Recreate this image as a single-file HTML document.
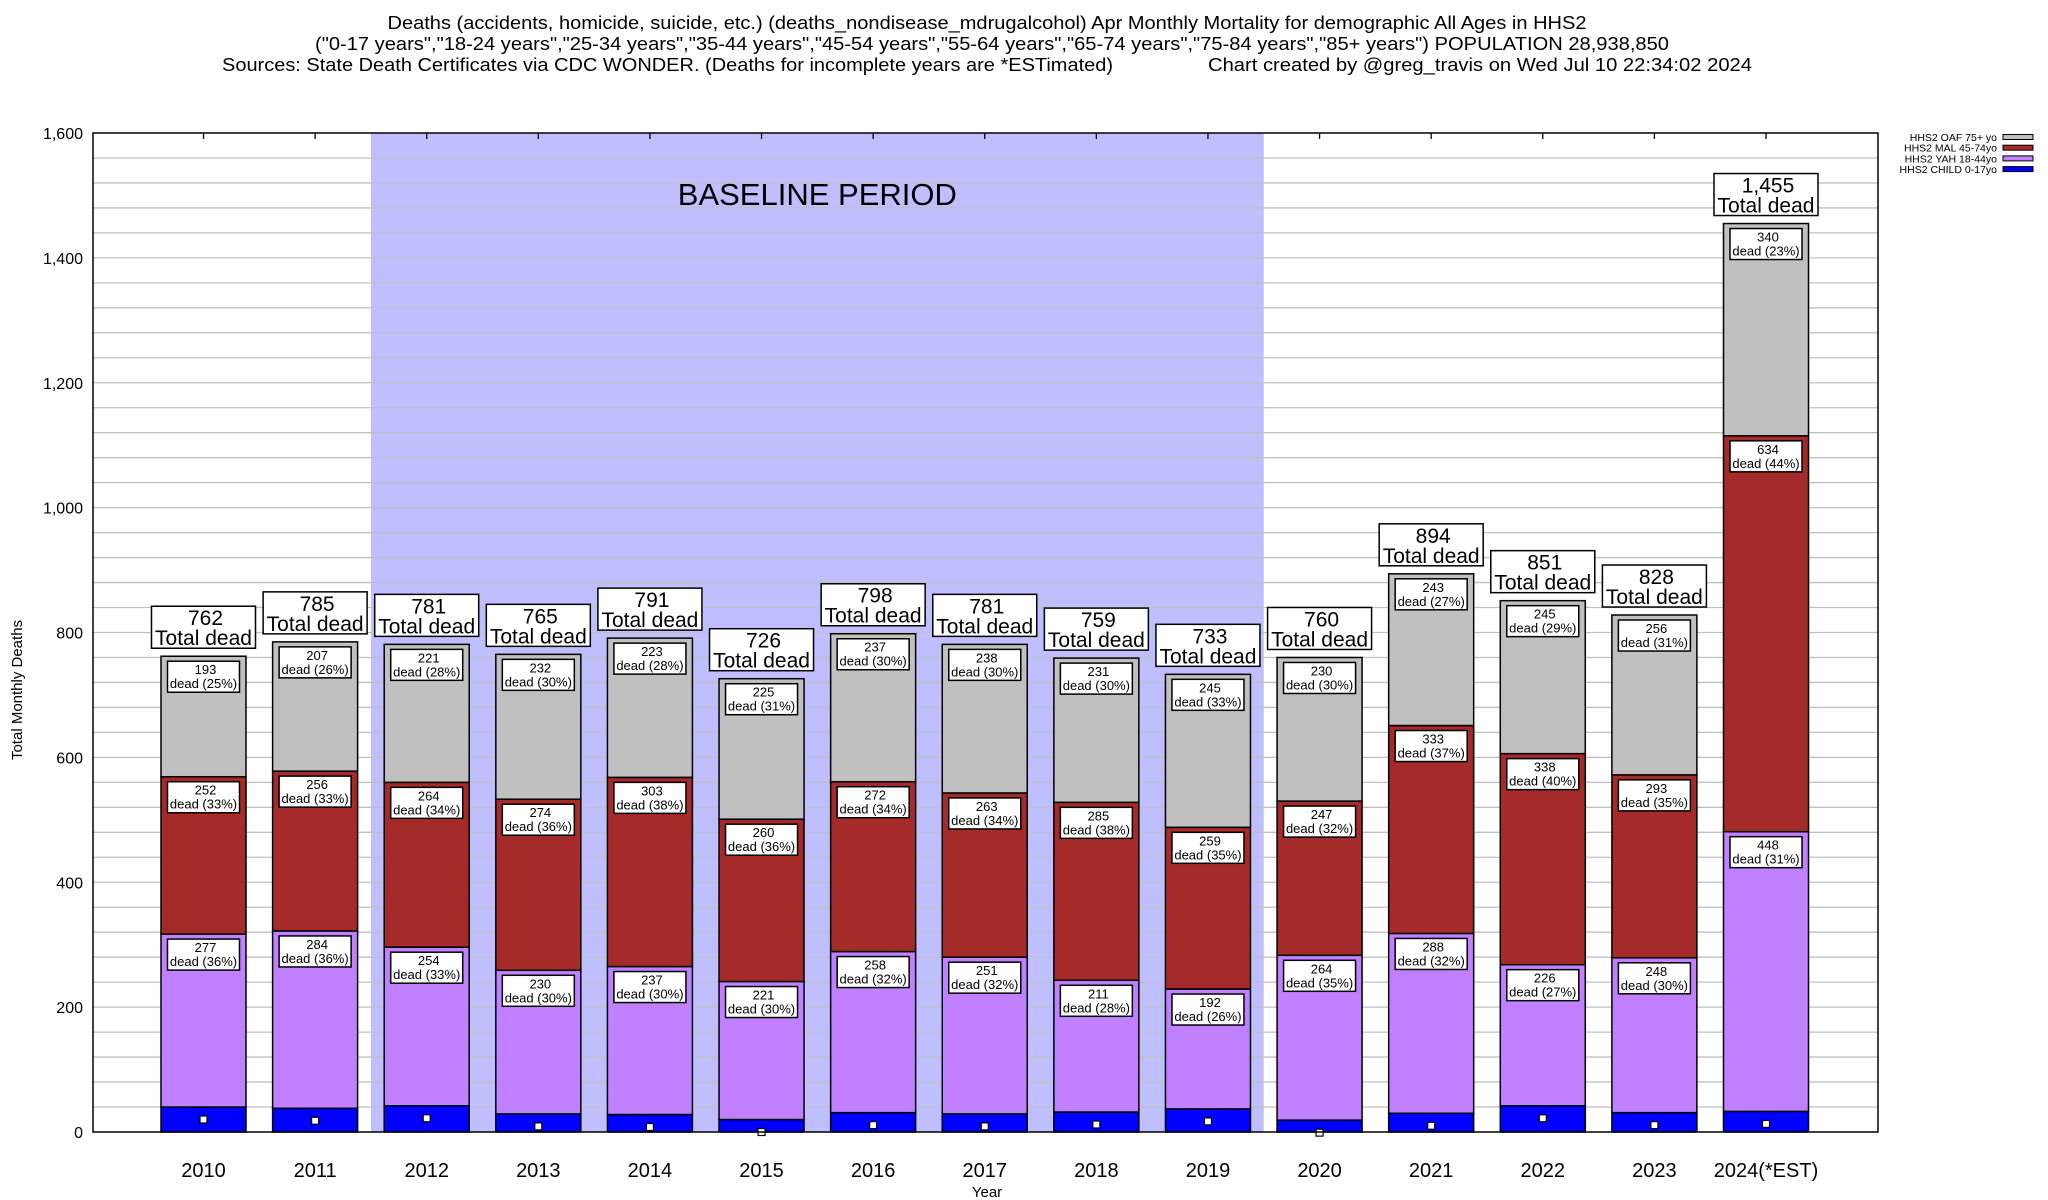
<!DOCTYPE html>
<html><head><meta charset="utf-8">
<style>
html,body{margin:0;padding:0;background:#fff;}
svg{display:block;font-family:"Liberation Sans",Arial,sans-serif;}
</style></head>
<body>
<svg id="chart" width="2048" height="1200" viewBox="0 0 2048 1200" xmlns="http://www.w3.org/2000/svg">
<g font-size="18" fill="#000">
<text x="987" y="29" text-anchor="middle" textLength="1199" lengthAdjust="spacingAndGlyphs">Deaths (accidents, homicide, suicide, etc.) (deaths_nondisease_mdrugalcohol) Apr Monthly Mortality for demographic All Ages in HHS2</text>
<text x="992" y="50" text-anchor="middle" textLength="1354" lengthAdjust="spacingAndGlyphs">("0-17 years","18-24 years","25-34 years","35-44 years","45-54 years","55-64 years","65-74 years","75-84 years","85+ years") POPULATION 28,938,850</text>
<text x="222" y="71" textLength="891" lengthAdjust="spacingAndGlyphs">Sources: State Death Certificates via CDC WONDER. (Deaths for incomplete years are *ESTimated)</text>
<text x="1208" y="71" textLength="544" lengthAdjust="spacingAndGlyphs">Chart created by @greg_travis on Wed Jul 10 22:34:02 2024</text>
</g>
<g id="plot"></g>
</svg>
<script>
const years = ['2010','2011','2012','2013','2014','2015','2016','2017','2018','2019','2020','2021','2022','2023','2024(*EST)'];
const totals = [762,785,781,765,791,726,798,781,759,733,760,894,851,828,1455];
const oaf = [193,207,221,232,223,225,237,238,231,245,230,243,245,256,340];
const mal = [252,256,264,274,303,260,272,263,285,259,247,333,338,293,634];
const yah = [277,284,254,230,237,221,258,251,211,192,264,288,226,248,448];
const child = [40,38,42,29,28,20,31,29,32,37,19,30,42,31,33];
const markers = [20,18,22,9,8,0,11,9,12,17,-1,10,22,11,13];
const yTicks = [0,200,400,600,800,1000,1200,1400,1600];
const yTickLabels = ['0','200','400','600','800','1,000','1,200','1,400','1,600'];
const baselineRange = ['2012','2019'];

const NS='http://www.w3.org/2000/svg';
const L=93,R=1878,T=133,B=1132,YMAX=1600;
const step=(1766-203.5)/14, x0=203.5, bw=85;
function yS(v){return B-(v/YMAX)*(B-T);}
function xS(i){return x0+i*step;}
function fmt(n){return n.toString().replace(/\B(?=(\d{3})+(?!\d))/g,',');}
const plot=document.getElementById('plot');
function mk(tag,attrs,parent){const e=document.createElementNS(NS,tag);for(const k in attrs)e.setAttribute(k,attrs[k]);(parent||plot).appendChild(e);return e;}

let bg=mk('rect',{x:L,y:T,width:R-L,height:B-T,fill:'#fff'});


const bi0=years.indexOf(baselineRange[0]), bi1=years.indexOf(baselineRange[1]);
const sx0=xS(bi0)-step/2, sx1=xS(bi1)+step/2;
let sh=mk('rect',{x:sx0,y:T,width:sx1-sx0,height:B-T,fill:'#bfbfff'});


let st=mk('text',{x:(sx0+sx1)/2,y:205,'font-size':31,'text-anchor':'middle',fill:'#000'});
st.textContent='BASELINE PERIOD';


for(let v=40;v<YMAX;v+=40){
  let g=mk('line',{x1:L,x2:R,y1:yS(v),y2:yS(v),stroke:'#c0c0c0','stroke-width':1.3});
  
  
}
yTicks.forEach((v,i)=>{
  let t=mk('text',{x:83,y:yS(v)+6,'font-size':16,'text-anchor':'end',fill:'#000'});
  t.textContent=yTickLabels[i];
  
  
});
let yt=mk('text',{x:22,y:690,'font-size':15,'text-anchor':'middle',transform:'rotate(-90 22 690)'});
yt.textContent='Total Monthly Deaths';


let xt=mk('text',{x:987,y:1197,'font-size':15,'text-anchor':'middle'});
xt.textContent='Year';



const segs=[{arr:child,col:'#0000ff',name:'child'},{arr:yah,col:'#c080ff',name:'yah'},{arr:mal,col:'#a52a2a',name:'mal'},{arr:oaf,col:'#c0c0c0',name:'oaf'}];
years.forEach((yr,i)=>{
  const cx=xS(i);
  let base=0;
  segs.forEach((s,si)=>{
    const v=s.arr[i];
    const y1=yS(base+v), y0=yS(base);
    let r=mk('rect',{x:cx-bw/2,y:y1,width:bw,height:y0-y1,fill:s.col,stroke:'#000','stroke-width':1.5});
    
    
    if(si>0){
      let lb=mk('rect',{x:cx-36,y:y1+5,width:72,height:31,fill:'#fff',stroke:'#000','stroke-width':1.5});
      
      
      let t1=mk('text',{x:cx+2,y:y1+18,'font-size':13,'text-anchor':'middle'});
      t1.textContent=String(v);
      
      
      let t2=mk('text',{x:cx,y:y1+32,'font-size':13,'text-anchor':'middle'});
      t2.textContent='dead ('+Math.round(v/totals[i]*100-1e-6)+'%)';
      
      
    }
    base+=v;
  });
  let m=mk('rect',{x:cx-3.5,y:yS(markers[i])-3.5,width:7,height:7,fill:'#fff',stroke:'#000','stroke-width':1.2});
  
  
  const ty=yS(totals[i]);
  let tb=mk('rect',{x:cx-52,y:ty-50,width:104,height:42,fill:'#fff',stroke:'#000','stroke-width':1.5});
  
  
  let a=mk('text',{x:cx+2,y:ty-31,'font-size':21,'text-anchor':'middle'});
  a.textContent=fmt(totals[i]);
  
  
  let b=mk('text',{x:cx,y:ty-11,'font-size':21,'text-anchor':'middle'});
  b.textContent='Total dead';
  
  
  let xl=mk('text',{x:cx,y:1177,'font-size':20,'text-anchor':'middle'});
  xl.textContent=yr;
  
  
  let tk=mk('line',{x1:cx,x2:cx,y1:T,y2:T+6,stroke:'#000','stroke-width':1.3});
  
  
});
let fr=mk('rect',{x:L,y:T,width:R-L,height:B-T,fill:'none',stroke:'#000','stroke-width':1.5});


const legNames=['HHS2 OAF 75+ yo','HHS2 MAL 45-74yo','HHS2 YAH 18-44yo','HHS2 CHILD 0-17yo'];
const legCols=['#c0c0c0','#a52a2a','#c080ff','#0000ff'];
legNames.forEach((n,i)=>{
  const y=137+i*10.7;
  let t=mk('text',{x:1997,y:y+4,'font-size':10.5,'text-anchor':'end'});
  t.textContent=n;
  
  
  let s=mk('rect',{x:2003,y:y-2.5,width:30,height:5,fill:legCols[i],stroke:'#000','stroke-width':1});
  
  
});
</script>
</body></html>
